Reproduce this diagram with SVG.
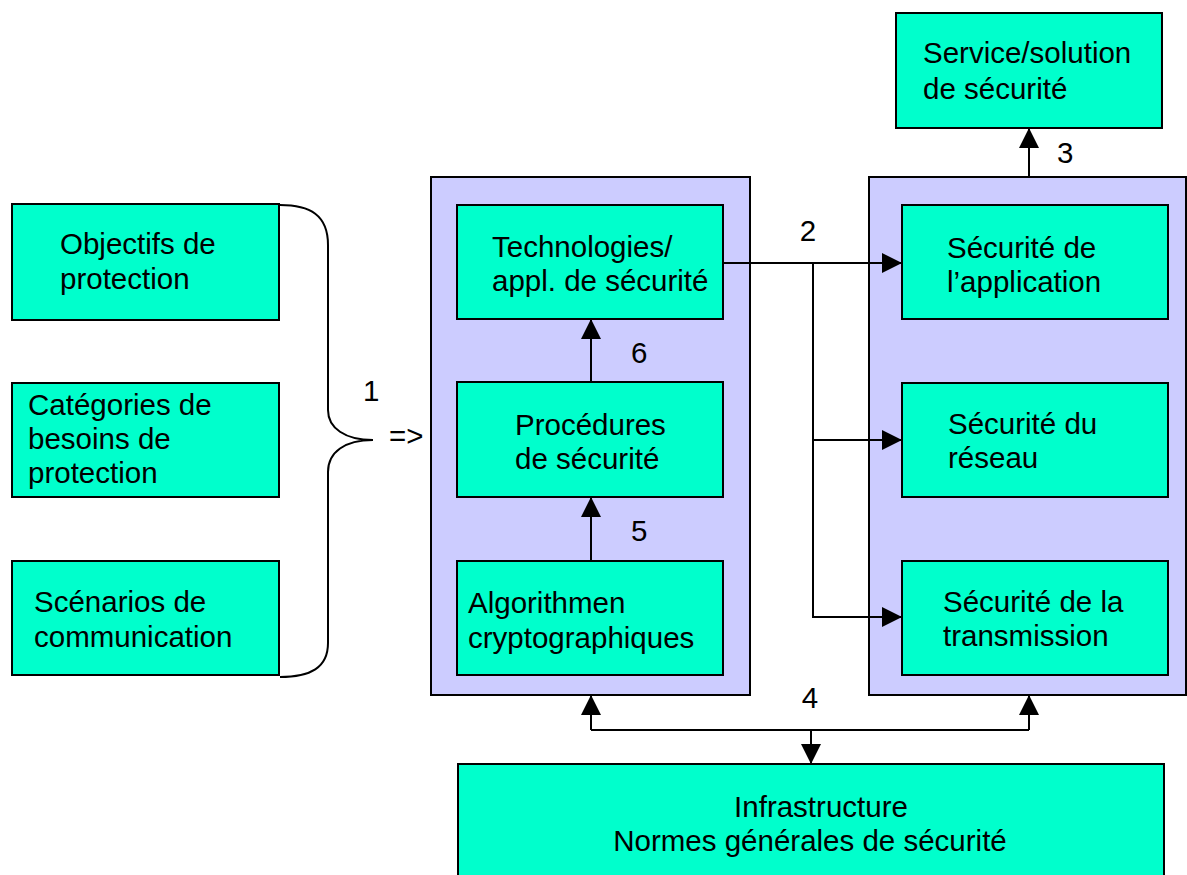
<svg xmlns="http://www.w3.org/2000/svg" width="1187" height="875" viewBox="0 0 1187 875">
<style>
.box{fill:#00FFCC;stroke:#000;stroke-width:2}
.panel{fill:#CCCCFF;stroke:#000;stroke-width:2}
.t{font-family:"Liberation Sans",Arial,sans-serif;font-size:29.5px;fill:#000}
.c{text-anchor:middle}
.ln{fill:none;stroke:#000;stroke-width:2}
.arr{fill:none;stroke:#000;stroke-width:2;marker-end:url(#ah)}
</style>
<defs>
<marker id="ah" markerUnits="userSpaceOnUse" markerWidth="20" markerHeight="20" viewBox="0 0 20 20" refX="20" refY="10" orient="auto">
<path d="M0,0 L20,10 L0,20 z" fill="#000"/>
</marker>
</defs>
<rect width="1187" height="875" fill="#fff"/>
<g id="panel-left"><rect class="panel" x="431" y="177" width="319" height="518"/></g>
<g id="panel-right"><rect class="panel" x="869" y="177" width="317" height="518"/></g>
<g id="objectifs"><rect class="box" x="12" y="204" width="267" height="116"/>
<text class="t" x="60" y="254">Objectifs de</text><text class="t" x="60" y="289">protection</text></g>
<g id="categories"><rect class="box" x="12" y="383" width="267" height="114"/>
<text class="t" x="28" y="415">Catégories de</text><text class="t" x="28" y="449">besoins de</text><text class="t" x="28" y="483">protection</text></g>
<g id="scenarios"><rect class="box" x="12" y="561" width="267" height="114"/>
<text class="t" x="34" y="612">Scénarios de</text><text class="t" x="34" y="647">communication</text></g>
<g id="technologies"><rect class="box" x="457" y="205" width="266" height="114"/>
<text class="t" x="492" y="257">Technologies/</text><text class="t" x="492" y="291">appl. de sécurité</text></g>
<g id="procedures"><rect class="box" x="457" y="382" width="266" height="115"/>
<text class="t" x="515" y="435">Procédures</text><text class="t" x="515" y="469">de sécurité</text></g>
<g id="algorithmen"><rect class="box" x="457" y="561" width="266" height="114"/>
<text class="t" x="468" y="613">Algorithmen</text><text class="t" x="468" y="648">cryptographiques</text></g>
<g id="service"><rect class="box" x="896" y="13" width="266" height="115"/>
<text class="t" x="923" y="63">Service/solution</text><text class="t" x="923" y="99">de sécurité</text></g>
<g id="sec-application"><rect class="box" x="902" y="205" width="266" height="114"/>
<text class="t" x="947" y="258">Sécurité de</text><text class="t" x="947" y="292">l’application</text></g>
<g id="sec-reseau"><rect class="box" x="902" y="383" width="266" height="114"/>
<text class="t" x="948" y="434">Sécurité du</text><text class="t" x="948" y="468">réseau</text></g>
<g id="sec-transmission"><rect class="box" x="902" y="561" width="266" height="114"/>
<text class="t" x="943" y="612">Sécurité de la</text><text class="t" x="943" y="646">transmission</text></g>
<g id="infrastructure"><rect class="box" x="458" y="764" width="706" height="130"/>
<text class="t c" x="821" y="817">Infrastructure</text><text class="t c" x="810" y="851">Normes générales de sécurité</text></g>
<g id="connectors">
<path class="ln" d="M280,205 C310,205 328,215 328,245 L328,410 C328,428 345,440 373,440 C345,440 328,452 328,472 L328,643 C328,668 310,677 280,677"/>
<text class="t" x="363" y="401">1</text>
<text class="t" x="389" y="446">=&gt;</text>
<path class="arr" d="M723,263 H902"/>
<path class="arr" d="M813,263 V617 H902"/>
<path class="arr" d="M813,440 H902"/>
<text class="t c" x="808" y="241">2</text>
<path class="arr" d="M1029,177 V128"/>
<text class="t" x="1057" y="163">3</text>
<path class="arr" d="M591,382 V319"/>
<text class="t" x="631" y="363">6</text>
<path class="arr" d="M591,561 V497"/>
<text class="t" x="631" y="541">5</text>
<path class="ln" d="M591,730 H1029"/>
<path class="arr" d="M591,730 V695"/>
<path class="arr" d="M1029,730 V695"/>
<path class="arr" d="M811,730 V764"/>
<text class="t c" x="810" y="708">4</text>
</g>
</svg>
